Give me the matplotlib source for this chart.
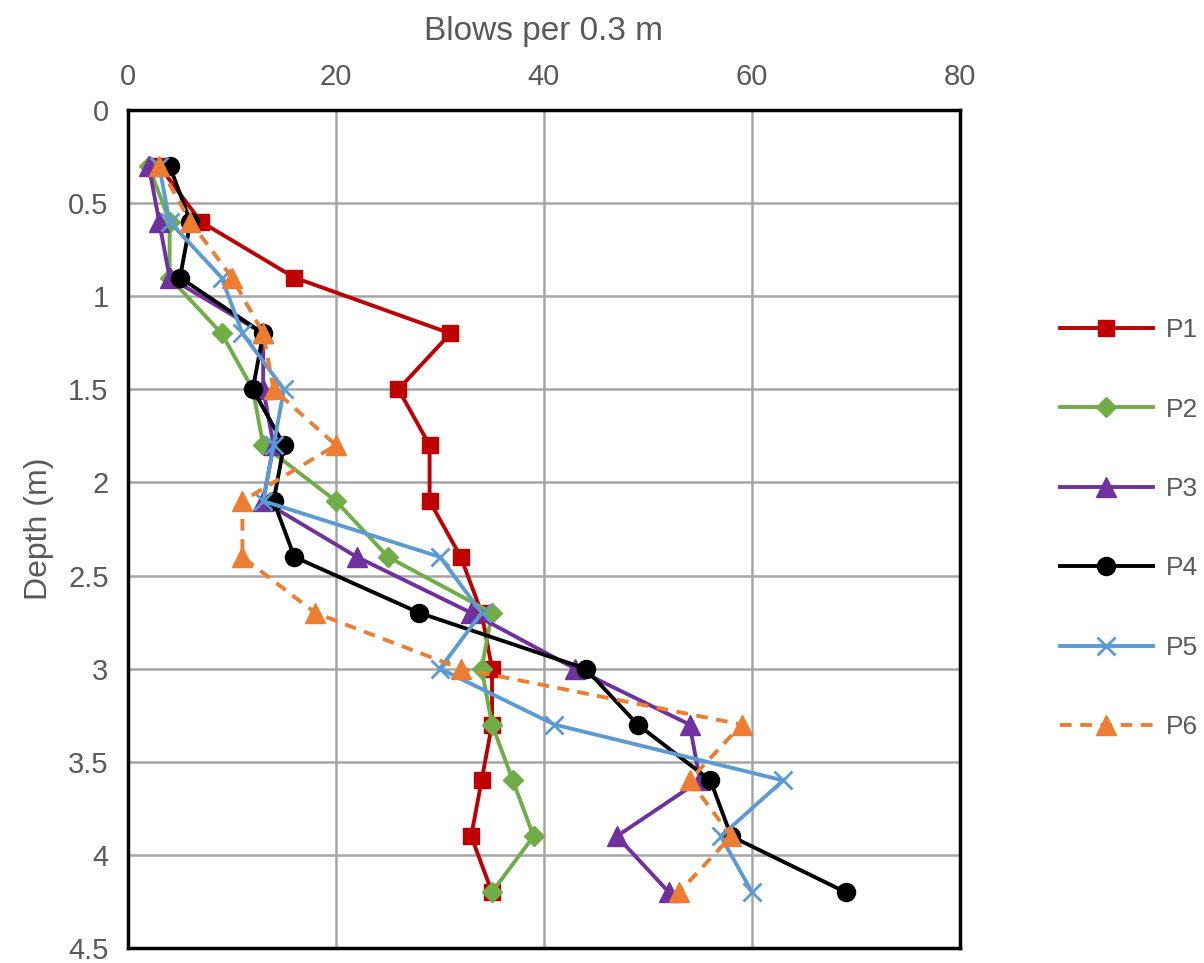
import numpy as np
import matplotlib
matplotlib.use("Agg")
import matplotlib.pyplot as plt

# глубины (м) и число ударов на 0.3 м для каждого зондирования
depth = [0.3, 0.6, 0.9, 1.2, 1.5, 1.8, 2.1, 2.4, 2.7, 3.0, 3.3, 3.6, 3.9, 4.2]
p1 = [3, 7, 16, 31, 26, 29, 29, 32, 34, 35, 35, 34, 33, 35]
p2 = [2, 4, 4, 9, 12, 13, 20, 25, 35, 34, 35, 37, 39, 35]
p3 = [2, 3, 4, 13, 13, 14, 13, 22, 33, 43, 54, 55, 47, 52]
p4 = [4, 6, 5, 13, 12, 15, 14, 16, 28, 44, 49, 56, 58, 69]
p5 = [3, 4, 9, 11, 15, 14, 13, 30, 34, 30, 41, 63, 57, 60]
p6 = [3, 6, 10, 13, 14, 20, 11, 11, 18, 32, 59, 54, 58, 53]

names = ['P1', 'P2', 'P3', 'P4', 'P5', 'P6']
x_ticks = [0, 20, 40, 60, 80]
y_ticks = [0, 0.5, 1, 1.5, 2, 2.5, 3, 3.5, 4, 4.5]

plt.rcParams['font.family'] = ['Liberation Sans', 'DejaVu Sans']
grey = '#595959'

fig = plt.figure(figsize=(12.04, 9.63), dpi=100)
ax = fig.add_axes([128 / 1204, 15 / 963, 832 / 1204, 838 / 963])

styles = [
    dict(color='#c00000', marker='s', ms=12, ls='-'),
    dict(color='#70ad47', marker='D', ms=10, ls='-'),
    dict(color='#7030a0', marker='^', ms=14, ls='-'),
    dict(color='#000000', marker='o', ms=13, ls='-'),
    dict(color='#5b9bd5', marker='x', ms=13, ls='-', mew=2),
    dict(color='#ed7d31', marker='^', ms=15, ls=(0, (3, 2.2))),
]
series = [p1, p2, p3, p4, p5, p6]
for vals, name, st in zip(series, names, styles):
    ax.plot(vals, depth, lw=2.8, label=name, zorder=3, **st)

ax.set_xlim(0, 80)
ax.set_ylim(4.5, 0)
ax.set_xticks(x_ticks)
ax.set_yticks(y_ticks)
ax.set_yticklabels(['0', '0.5', '1', '1.5', '2', '2.5', '3', '3.5', '4', '4.5'])
ax.xaxis.tick_top()
ax.xaxis.set_label_position('top')
ax.tick_params(length=0, labelsize=21, labelcolor=grey, pad=14)
ax.grid(True, color='#a6a6a6', lw=1.8, zorder=0)
ax.set_axisbelow(True)

for side in ['left', 'top', 'right', 'bottom']:
    ax.spines[side].set_linewidth(2.5)

ax.set_xlabel('Blows per 0.3 m', fontsize=24, color=grey, labelpad=16)
ax.set_ylabel('Depth (m)', fontsize=23, color=grey, labelpad=10)

leg = ax.legend(loc='upper left', bbox_to_anchor=(1.092, 0.78), frameon=False,
                fontsize=19, labelspacing=2.1, handlelength=3.5, handletextpad=0.5)
for t in leg.get_texts():
    t.set_color(grey)

fig.savefig('out.png', dpi=100)
